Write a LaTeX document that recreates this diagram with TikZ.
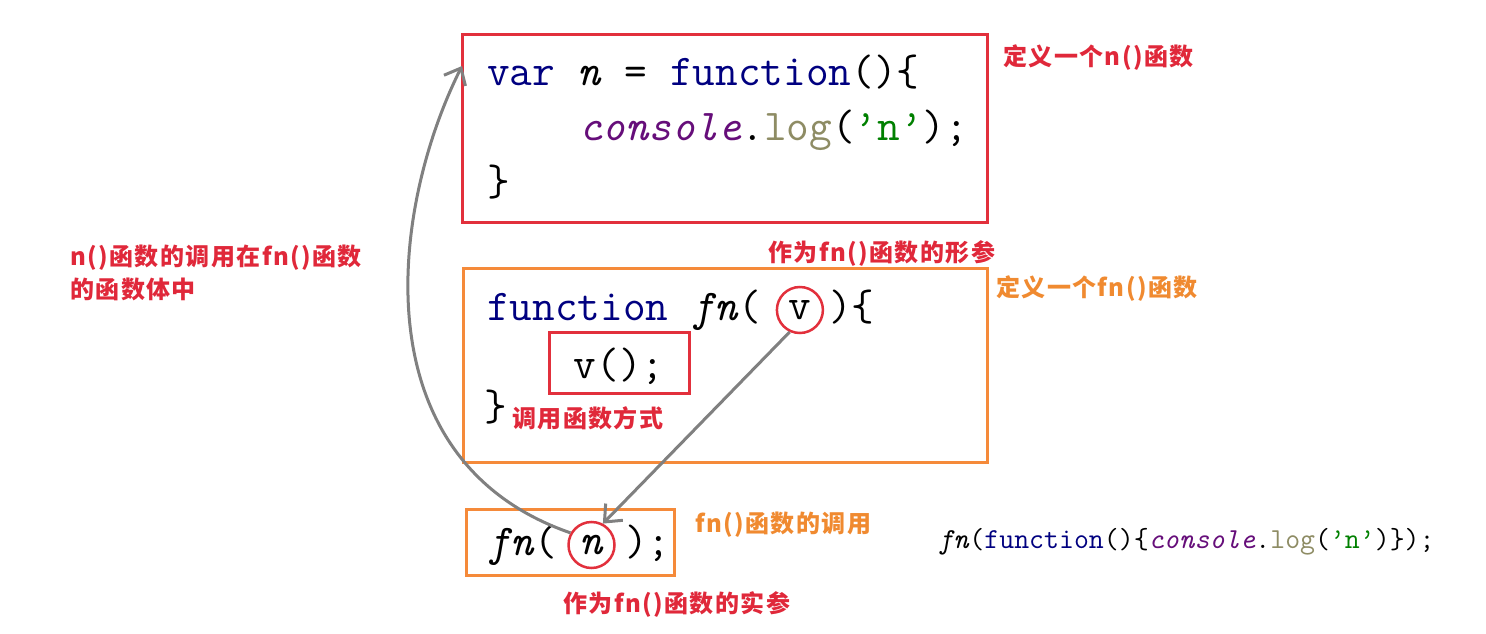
\documentclass[tikz,border=0pt]{standalone}
\usepackage{fontspec}
\usetikzlibrary{arrows.meta}
\newfontfamily\cjk{Noto Sans CJK SC}[LetterSpace=6]
\definecolor{boxred}{HTML}{E2303C}
\definecolor{boxorange}{HTML}{F58A3A}
\definecolor{labred}{HTML}{E0283A}
\definecolor{laborange}{HTML}{F08A30}
\definecolor{kw}{HTML}{000080}
\definecolor{purp}{HTML}{660E7A}
\definecolor{logc}{HTML}{8E8C64}
\definecolor{strg}{HTML}{008000}
\definecolor{agray}{HTML}{808080}
\newcommand\mycodefont{\fontsize{44}{50}\selectfont\ttfamily}
\newcommand\mysmallcode{\fontsize{29}{33}\selectfont\ttfamily}
\newcommand\mylabfont{\fontsize{24}{33}\selectfont\cjk\bfseries}
\begin{document}
\begin{tikzpicture}[x=1pt,y=-1pt,
  code/.style={anchor=base west, inner sep=0pt, font=\mycodefont},
  smallcode/.style={anchor=base west, inner sep=0pt, font=\mysmallcode},
  redbox/.style={draw=boxred, line width=3pt, inner sep=0pt},
  orangebox/.style={draw=boxorange, line width=3pt, inner sep=0pt},
  ring/.style={circle, draw=boxred, line width=2.5pt, minimum size=46pt, inner sep=0pt, font=\mycodefont},
  lab/.style={anchor=west, inner sep=0pt, font=\mylabfont, align=left},
  garrow/.style={draw=agray, line width=3pt, -{Straight Barb[length=14pt,width=24pt]}}]
\useasboundingbox (0,0) rectangle (1486,634);
\fill[white] (0,0) rectangle (1486,634);

% boxes
\node[redbox, minimum width=525pt, minimum height=187pt] (box1) at (724.5,128.5) {};
\node[orangebox, minimum width=524pt, minimum height=194pt] (box2) at (725,365) {};
\node[redbox, minimum width=140pt, minimum height=61pt] (box3) at (619,362.5) {};
\node[orangebox, minimum width=208pt, minimum height=66pt] (box4) at (570,542) {};

% code in box 1
\node[code] (c1) at (487,85) {\color{kw}var \textcolor{black}{\textit{n}} \textcolor{black}{=} function\textcolor{black}{()\{}};
\node[code] (c2) at (487,140) {\hspace*{92.4pt}\textcolor{purp}{\textit{console}}.\textcolor{logc}{log}(\textcolor{strg}{’n’});};
\node[code] (c3) at (487,195) {\}};

% code in box 2
\node[code] (d1) at (487,320) {\textcolor{kw}{function} \textit{fn}( \phantom{v} )\{};
\node[ring] (vc) at (799.9,310) {v};
\node[font=\mycodefont, inner sep=0pt] (d2) at (619,366) {v();};
\node[code] (d3) at (484,420) {\}};

% call
\node[code] (e1) at (487,555) {\textit{fn}( \phantom{n} );};
\node[ring] (nc) at (591.5,545) {\textit{n}};

\node[smallcode] (f1) at (938,548) {\textit{fn}(\textcolor{kw}{function}()\{\textcolor{purp}{\textit{console}}.\textcolor{logc}{log}(\textcolor{strg}{’n’})\});};

% labels
\node[lab, text=labred] (l1) at (1003,58) {定义一个n()函数};
\node[lab, text=labred] (l2) at (768,253) {作为fn()函数的形参};
\node[lab, text=laborange] (l3) at (996,289) {定义一个fn()函数};
\node[lab, text=labred] (l4) at (512,418) {调用函数方式};
\node[lab, text=laborange] (l5) at (695,525) {fn()函数的调用};
\node[lab, text=labred] (l6) at (563,604) {作为fn()函数的实参};
\node[lab, text=labred] (l7) at (70,273) {n()函数的调用在fn()函数\\的函数体中};

% arrows
\coordinate (t1) at (462,66);
\draw[garrow] (nc.150) .. controls (360,460) and (390,210) .. (t1);
\draw[garrow] (vc.245) -- (nc.62);
\end{tikzpicture}
\end{document}
